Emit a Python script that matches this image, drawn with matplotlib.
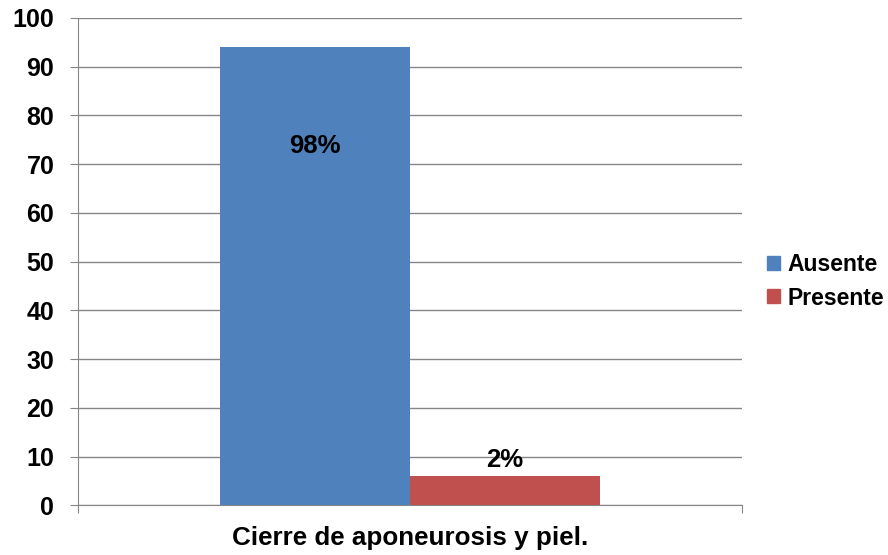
import matplotlib.pyplot as plt
from matplotlib.patches import Patch

plt.rcParams['font.family'] = ['Liberation Sans', 'DejaVu Sans']

# Datos
categoria = 'Cierre de aponeurosis y piel.'
series = ['Ausente', 'Presente']
valores = [94, 6]
etiquetas = ['98%', '2%']
colores = ['#4F81BD', '#C0504D']

fig = plt.figure(figsize=(8.88, 5.55), dpi=100)
ax = fig.add_axes([0.0878, 0.0892, 0.7478, 0.8784])

ancho = 0.286
posiciones = [-ancho / 2, ancho / 2]
barras = ax.bar(posiciones, valores, width=ancho, color=colores, zorder=3)

# Etiquetas de datos
offsets = [-71, 11.5]
for b, txt, off in zip(barras, etiquetas, offsets):
    ax.annotate(txt, (b.get_x() + b.get_width() / 2, b.get_height()),
                xytext=(0, off), textcoords='offset points',
                ha='center', va='center', fontsize=18.5, fontweight='bold', zorder=4)

ax.set_xlim(-0.5, 0.5)
ax.set_ylim(0, 100)
ax.set_yticks(range(0, 101, 10))
ax.set_xticks([-0.5, 0.5])
ax.set_xticklabels(['', ''])
ax.tick_params(axis='y', length=6, color='#868686', labelsize=18, pad=11)
ax.tick_params(axis='x', length=6, color='#868686')
for lbl in ax.get_yticklabels():
    lbl.set_fontweight('bold')

ax.grid(axis='y', color='#868686', linewidth=1, zorder=0)
ax.spines['top'].set_visible(False)
ax.spines['right'].set_visible(False)
ax.spines['left'].set_color('#868686')
ax.spines['bottom'].set_color('#868686')

ax.text(0, -0.066, categoria, transform=ax.get_xaxis_transform(),
        ha='center', va='center', fontsize=18.7, fontweight='bold')

handles = [Patch(color=c, label=s) for c, s in zip(colores, series)]
fig.legend(handles=handles, loc='center left', bbox_to_anchor=(0.864, 0.493),
           frameon=False, prop={'size': 16.5, 'weight': 'bold'},
           handlelength=0.57, handleheight=0.57, handletextpad=0.3,
           labelspacing=0.45, borderpad=0, borderaxespad=0)

fig.savefig('out.png', dpi=100)
